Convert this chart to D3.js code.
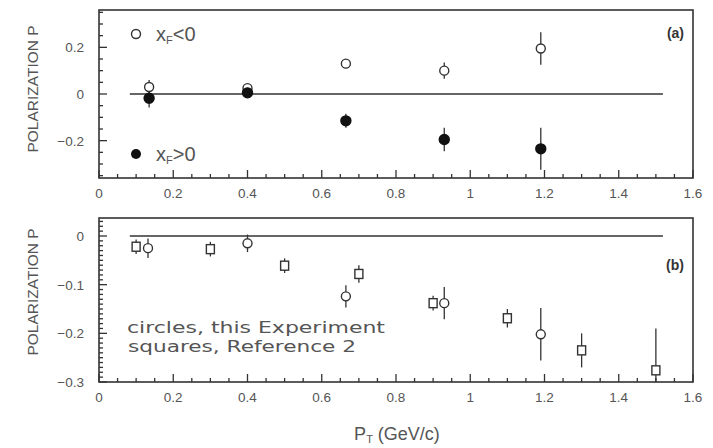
<!DOCTYPE html>
<html>
<head>
<meta charset="utf-8">
<script src="https://cdn.jsdelivr.net/npm/d3@7"></script>
<style>
  body { margin: 0; background: #fff; }
  svg { display: block; font-family: "Liberation Sans", Arial, sans-serif; }
</style>
</head>
<body>
<svg id="chart" width="713" height="448"></svg>
<script>
// panel (a): this experiment, split by x_F
const ptA = [0.135, 0.40, 0.665, 0.93, 1.19];
const polNeg = [0.03, 0.025, 0.13, 0.10, 0.195];
const errNeg = [0.03, 0.012, 0.02, 0.035, 0.07];
const polPos = [-0.018, 0.005, -0.115, -0.195, -0.235];
const errPos = [0.04, 0.012, 0.03, 0.05, 0.09];

// panel (b): circles = this experiment, squares = reference 2
const ptCirc = [0.132, 0.40, 0.665, 0.93, 1.19];
const polCirc = [-0.025, -0.015, -0.124, -0.138, -0.202];
const errCirc = [0.02, 0.018, 0.023, 0.033, 0.054];
const ptSq = [0.10, 0.30, 0.50, 0.70, 0.90, 1.10, 1.30, 1.50];
const polSq = [-0.022, -0.027, -0.061, -0.078, -0.138, -0.169, -0.235, -0.276];
const errSq = [0.015, 0.015, 0.015, 0.018, 0.015, 0.019, 0.035, 0.086];

const xTicks = [0, 0.2, 0.4, 0.6, 0.8, 1, 1.2, 1.4, 1.6];
const yTicksA = [-0.2, 0, 0.2];
const yTicksB = [-0.3, -0.2, -0.1, 0];

const svg = d3.select("#chart");
const ink = "#333";
const txt = "#555";

const x = d3.scaleLinear().domain([0, 1.6]).range([99, 693]);
const yA = d3.scaleLinear().domain([-0.36, 0.36]).range([178, 10]);
const yB = d3.scaleLinear().domain([-0.3, 0.037]).range([382, 218]);

const fmt = d => d === 0 ? "0" : d3.format("")(d).replace("-", "\u2212");

function frame(y, minorStep, majorY) {
  const g = svg.append("g");
  const [y0, y1] = y.range();
  g.append("rect")
    .attr("x", x.range()[0]).attr("y", y1)
    .attr("width", x.range()[1] - x.range()[0]).attr("height", y0 - y1)
    .attr("fill", "none").attr("stroke", ink).attr("stroke-width", 1.6);

  // x ticks pointing inside
  const xm = d3.range(0, 1.6001, 0.05);
  g.selectAll(".xt").data(xm).join("line")
    .attr("x1", d => x(d)).attr("x2", d => x(d))
    .attr("y1", y0).attr("y2", d => y0 - (Math.abs(d / 0.2 - Math.round(d / 0.2)) < 1e-6 ? 8 : 4))
    .attr("stroke", ink).attr("stroke-width", 1.3);
  g.selectAll(".xl").data(xTicks).join("text")
    .attr("x", d => x(d)).attr("y", y0 + 20)
    .attr("text-anchor", "middle").attr("font-size", 13.5).attr("fill", txt)
    .text(d => fmt(d));

  // y ticks pointing inside
  const [d0, d1] = y.domain();
  const ym = d3.range(Math.ceil(d0 / minorStep - 1e-6) * minorStep, d1 + 1e-9, minorStep);
  g.selectAll(".yt").data(ym).join("line")
    .attr("x1", x.range()[0]).attr("x2", d => x.range()[0] + (majorY(d) ? 8 : 4))
    .attr("y1", d => y(d)).attr("y2", d => y(d))
    .attr("stroke", ink).attr("stroke-width", 1.3);
  return g;
}

function yLabels(y, ticks) {
  svg.append("g").selectAll("text").data(ticks).join("text")
    .attr("x", 84).attr("y", d => y(d) + 5)
    .attr("text-anchor", "end").attr("font-size", 13.5).attr("fill", txt)
    .text(d => fmt(d));
}

function zeroLine(y) {
  svg.append("line")
    .attr("x1", x(0.083)).attr("x2", x(1.519))
    .attr("y1", y(0)).attr("y2", y(0))
    .attr("stroke", ink).attr("stroke-width", 1.6);
}

function errBars(px, py, pe, y) {
  svg.append("g").selectAll("line").data(px).join("line")
    .attr("x1", d => x(d)).attr("x2", d => x(d))
    .attr("y1", (d, i) => y(Math.max(py[i] - pe[i], y.domain()[0])))
    .attr("y2", (d, i) => y(py[i] + pe[i]))
    .attr("stroke", ink).attr("stroke-width", 1.3);
}

function circles(px, py, y, filled, r) {
  svg.append("g").selectAll("circle").data(px).join("circle")
    .attr("cx", d => x(d)).attr("cy", (d, i) => y(py[i])).attr("r", r)
    .attr("fill", filled ? "#111" : "#fff")
    .attr("stroke", filled ? "#111" : ink).attr("stroke-width", 1.4);
}

function squares(px, py, y) {
  svg.append("g").selectAll("rect").data(px).join("rect")
    .attr("x", d => x(d) - 4).attr("y", (d, i) => y(py[i]) - 4.5)
    .attr("width", 8).attr("height", 9)
    .attr("fill", "#fff").attr("stroke", ink).attr("stroke-width", 1.4);
}

function yTitle(cy) {
  svg.append("text")
    .attr("transform", `translate(38,${cy}) rotate(-90)`)
    .attr("text-anchor", "middle").attr("font-size", 15.5).attr("fill", txt)
    .text("POLARIZATION P");
}

// ---- panel (a)
frame(yA, 0.05, d => Math.abs(d / 0.2 - Math.round(d / 0.2)) < 1e-6);
yLabels(yA, yTicksA);
zeroLine(yA);
errBars(ptA, polNeg, errNeg, yA);
errBars(ptA, polPos, errPos, yA);
circles(ptA, polNeg, yA, false, 4.5);
circles(ptA, polPos, yA, true, 5);
yTitle(89);

const legA = svg.append("g").attr("fill", txt).attr("font-size", 20);
legA.append("circle").attr("cx", 136).attr("cy", 34).attr("r", 4.5)
  .attr("fill", "#fff").attr("stroke", ink).attr("stroke-width", 1.4);
const t1 = legA.append("text").attr("x", 156).attr("y", 41);
t1.append("tspan").text("x");
t1.append("tspan").attr("font-size", 11).attr("dy", 3).text("F");
t1.append("tspan").attr("dy", -3).text("<0");
legA.append("circle").attr("cx", 136).attr("cy", 154).attr("r", 5).attr("fill", "#111");
const t2 = legA.append("text").attr("x", 156).attr("y", 161);
t2.append("tspan").text("x");
t2.append("tspan").attr("font-size", 11).attr("dy", 3).text("F");
t2.append("tspan").attr("dy", -3).text(">0");

svg.append("text").attr("x", 684).attr("y", 38).attr("text-anchor", "end")
  .attr("font-size", 14).attr("font-weight", "bold").attr("fill", "#333").text("(a)");

// ---- panel (b)
frame(yB, 0.01, d => Math.abs(d / 0.1 - Math.round(d / 0.1)) < 1e-6);
yLabels(yB, yTicksB);
zeroLine(yB);
errBars(ptSq, polSq, errSq, yB);
errBars(ptCirc, polCirc, errCirc, yB);
squares(ptSq, polSq, yB);
circles(ptCirc, polCirc, yB, false, 4.5);
yTitle(292);

svg.append("text").attr("x", 684).attr("y", 270).attr("text-anchor", "end")
  .attr("font-size", 14).attr("font-weight", "bold").attr("fill", "#333").text("(b)");

const note = svg.append("g").attr("fill", txt).attr("font-size", 16)
  .attr("font-family", "'DejaVu Sans', sans-serif");
note.append("text").attr("x", 127).attr("y", 333)
  .attr("textLength", 258).attr("lengthAdjust", "spacingAndGlyphs")
  .text("circles,  this Experiment");
note.append("text").attr("x", 128).attr("y", 352)
  .attr("textLength", 228).attr("lengthAdjust", "spacingAndGlyphs")
  .text("squares, Reference 2");

// x title
const xt = svg.append("text").attr("x", 397).attr("y", 440)
  .attr("text-anchor", "middle").attr("font-size", 18).attr("fill", txt);
xt.append("tspan").text("P");
xt.append("tspan").attr("font-size", 11).attr("dy", 3).text("T");
xt.append("tspan").attr("dy", -3).text(" (GeV/c)");
</script>
</body>
</html>
